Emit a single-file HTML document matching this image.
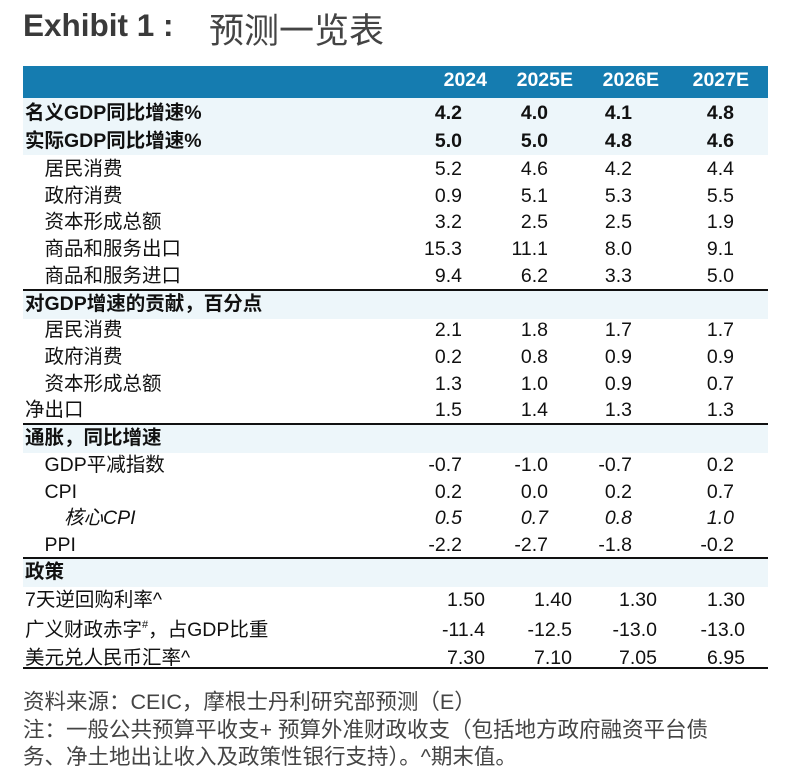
<!DOCTYPE html><html><head><meta charset="utf-8"><style>
body{margin:0;width:787px;height:781px;background:#fff;font-family:"Liberation Sans","Noto Sans CJK SC",sans-serif;color:#111;position:relative;overflow:hidden}
.a{position:absolute;white-space:nowrap}
.t{font-size:19.5px;line-height:22px}
.b{font-weight:bold}
.r{text-align:right;width:80px}
sup{line-height:0;font-size:11px;vertical-align:8px}
</style></head><body>
<div class="a b" style="left:23px;top:7px;font-size:31.5px;color:#3a3a3a;font-family:'Liberation Sans',sans-serif">Exhibit 1 :</div>
<div class="a" style="left:209px;top:3px;font-size:35px;color:#444">预测一览表</div>
<div class="a" style="left:23px;top:66px;width:745px;height:32px;background:#157cb0"></div>
<div class="a" style="left:23px;top:98px;width:745px;height:57px;background:#edf6fa"></div>
<div class="a" style="left:23px;top:289px;width:745px;height:28px;background:#edf6fa;border-top:2px solid #111"></div>
<div class="a" style="left:23px;top:423px;width:745px;height:28px;background:#edf6fa;border-top:2px solid #111"></div>
<div class="a" style="left:23px;top:557px;width:745px;height:28px;background:#edf6fa;border-top:2px solid #111"></div>
<div class="a" style="left:23px;top:667px;width:745px;height:2px;background:#111"></div>
<div id="c"></div>
<div class="a" style="left:23px;top:689px;font-size:21.5px;line-height:27.5px;color:#444">资料来源：CEIC，摩根士丹利研究部预测（E）<br>注：一般公共预算平收支+ 预算外准财政收支（包括地方政府融资平台债<br>务、净土地出让收入及政策性银行支持）。^期末值。</div>
<script>
var rows=[
[80,"",["2024","2025E","2026E","2027E"],"h"],
[113,"名义GDP同比增速%",["4.2","4.0","4.1","4.8"],"b"],
[141,"实际GDP同比增速%",["5.0","5.0","4.8","4.6"],"b"],
[169,"　居民消费",["5.2","4.6","4.2","4.4"]],
[196,"　政府消费",["0.9","5.1","5.3","5.5"]],
[222,"　资本形成总额",["3.2","2.5","2.5","1.9"]],
[249,"　商品和服务出口",["15.3","11.1","8.0","9.1"]],
[276,"　商品和服务进口",["9.4","6.2","3.3","5.0"]],
[304,"对GDP增速的贡献，百分点",null,"b"],
[330,"　居民消费",["2.1","1.8","1.7","1.7"]],
[357,"　政府消费",["0.2","0.8","0.9","0.9"]],
[384,"　资本形成总额",["1.3","1.0","0.9","0.7"]],
[410,"净出口",["1.5","1.4","1.3","1.3"]],
[438,"通胀，同比增速",null,"b"],
[465,"　GDP平减指数",["-0.7","-1.0","-0.7","0.2"]],
[492,"　CPI",["0.2","0.0","0.2","0.7"]],
[518,"　　核心CPI",["0.5","0.7","0.8","1.0"],"i"],
[545,"　PPI",["-2.2","-2.7","-1.8","-0.2"]],
[572,"政策",null,"b"],
[600,"7天逆回购利率^",["1.50","1.40","1.30","1.30"],"p"],
[630,"广义财政赤字<sup>#</sup>，占GDP比重",["-11.4","-12.5","-13.0","-13.0"],"p"],
[658,"美元兑人民币汇率^",["7.30","7.10","7.05","6.95"],"p"]];
var R1=[462,548,632,734],R2=[485,572,657,745],RH=[487,573,659,749];
var h="";
rows.forEach(function(r){
 var y=r[0]-11,st=r[3]||"",cls="a t"+(st=="b"||st=="h"?" b":""),col=st=="h"?"color:#fff;":"";
 var it=st=="i"?"font-style:italic;":"";
 if(r[1])h+='<div class="'+cls+'" style="left:25px;top:'+y+'px;'+it+'">'+r[1]+'</div>';
 if(r[2])r[2].forEach(function(v,i){var rx=(st=="h"?RH:st=="p"?R2:R1)[i];
  h+='<div class="'+cls+' r" style="left:'+(rx-80)+'px;top:'+y+'px;'+col+it+'">'+v+'</div>';});
});
document.getElementById("c").innerHTML=h;
</script>
</body></html>
